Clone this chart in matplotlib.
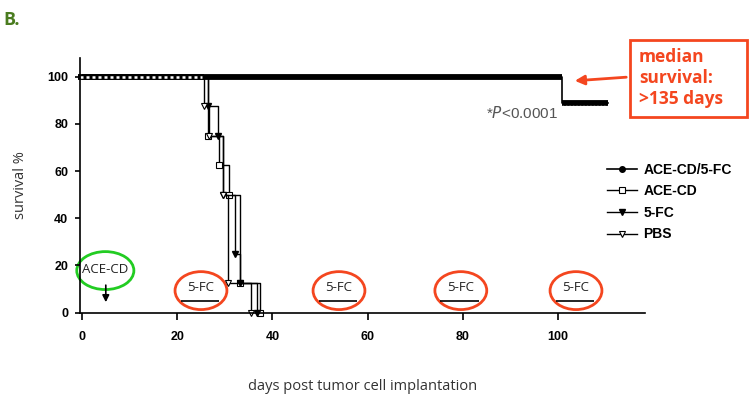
import matplotlib
matplotlib.use("Agg")
from matplotlib import pyplot as plt
from matplotlib.patches import Ellipse, Rectangle

# Kaplan-Meier steps (day, survival %)
combo_days = [0, 100.8, 110.5]
combo_surv = [100, 88.9, 88.9]
acecd_days = [0, 26.5, 28.8, 30.9, 33.2, 37.4]
acecd_surv = [100, 75, 62.5, 50, 12.5, 0]
fc_days = [0, 26.5, 28.6, 29.7, 32.1, 33.2, 36.7]
fc_surv = [100, 87.5, 75, 50, 25, 12.5, 0]
pbs_days = [0, 25.6, 26.7, 29.7, 30.7, 35.6]
pbs_surv = [100, 87.5, 75, 50, 12.5, 0]

labels = ["ACE-CD/5-FC", "ACE-CD", "5-FC", "PBS"]
fc_doses = [25, 54, 79.6, 103.8]
xticks = [0, 20, 40, 60, 80, 100]
yticks = [0, 20, 40, 60, 80, 100]

RED = "#f4461f"

fig = plt.figure(figsize=(7.5, 4.01), dpi=100)
ax = fig.add_axes([80/750, 88/401, 565/750, 255/401])

# thick censor bar of the treated group, thin vertical drops
ax.step(combo_days, combo_surv, where="post", color="black", lw=1.2,
        marker="o", ms=4, markevery=[], label=labels[0], clip_on=False)
ax.hlines(combo_surv[:-1], combo_days[:-1], combo_days[1:], color="black",
          lw=4.2, clip_on=False)

ax.step(acecd_days, acecd_surv, where="post", color="black", lw=1.0,
        marker="s", ms=4, mfc="white", mec="black", mew=0.8,
        markevery=slice(1, None), label=labels[1], clip_on=False)
ax.step(fc_days, fc_surv, where="post", color="black", lw=1.0,
        marker="v", ms=5, mfc="black", mec="black",
        markevery=slice(1, None), label=labels[2], clip_on=False)
ax.step(pbs_days, pbs_surv, where="post", color="black", lw=1.0,
        marker="v", ms=5, mfc="white", mec="black", mew=0.8,
        markevery=slice(1, None), label=labels[3], clip_on=False)

# censor ticks on the shared 100 % segment
ax.hlines(100, -0.8, pbs_days[1], color="black", lw=4.2, clip_on=False)
ax.hlines(100, -0.5, pbs_days[1] - 0.3, color="white", lw=1.8,
          linestyles=(0, (1.2, 1.2)), clip_on=False)
ax.hlines(combo_surv[1] - 1.3, combo_days[1], combo_days[2], color="white",
          lw=1.0, linestyles=(0, (1, 1.5)), clip_on=False)

ax.set_xlim(-0.42, 118.3)
ax.set_ylim(-0.2, 108)
ax.set_xticks(xticks)
ax.set_yticks(yticks)
for s in ["top", "right"]:
    ax.spines[s].set_visible(False)
for s in ["left", "bottom"]:
    ax.spines[s].set_linewidth(1.2)
ax.tick_params(axis="x", length=5, width=1.2, pad=8)
ax.tick_params(axis="y", length=3.6, width=1.2, pad=5)
for t in ax.get_xticklabels() + ax.get_yticklabels():
    t.set_fontfamily("Liberation Sans")
    t.set_fontweight("bold")
    t.set_fontsize(9)

ax.set_xlabel("days post tumor cell implantation", family="Open Sans",
              fontsize=10.5, color="#333333", labelpad=26)
ax.set_ylabel("survival %", family="Open Sans", fontsize=10.5,
              color="#333333", labelpad=14)

ax.legend(loc="upper left", bbox_to_anchor=(594/750, 1 - 150/401),
          bbox_transform=fig.transFigure, frameon=False, numpoints=1,
          handlelength=2.2, handletextpad=0.45, labelspacing=0.55,
          prop={"family": "Liberation Sans", "weight": "bold", "size": 10})

ax.text(92.5, 84.5, "*$\\it{P}$<0.0001", fontsize=11, color="#555555",
        family="Liberation Sans", ha="center", va="center")

# treatment annotations
ax.add_patch(Ellipse((4.9, 17.8), 12, 16.1, fill=False, ec="#22cc22",
                     lw=2, clip_on=False))
ax.text(4.9, 18.3, "ACE-CD", family="Open Sans", fontsize=9.5,
        ha="center", va="center", color="#222222")
ax.annotate("", xy=(5, 3.2), xytext=(5, 12.8),
            arrowprops=dict(arrowstyle="-|>", color="black", lw=1.2,
                            mutation_scale=10), annotation_clip=False)
for d in fc_doses:
    ax.add_patch(Ellipse((d, 9.3), 10.9, 16.1, fill=False, ec=RED, lw=2,
                         clip_on=False))
    ax.text(d, 10.8, "5-FC", family="Open Sans", fontsize=9.5,
            ha="center", va="center", color="#222222")
    ax.hlines(4.7, d - 4.3, d + 3.8, color="black", lw=1.2, clip_on=False)

# median survival call-out
fig.patches.append(Rectangle((630/750, 1 - 117/401), 117/750, 77/401,
                             transform=fig.transFigure, fill=False,
                             ec=RED, lw=2))
fig.text(639/750, 1 - 78/401, "median\nsurvival:\n>135 days", color=RED,
         family="Open Sans", weight="bold", fontsize=12.5, va="center",
         ha="left", linespacing=1.22)
ax.annotate("", xy=(572/750, 1 - 81/401), xytext=(629/750, 1 - 77/401),
            xycoords="figure fraction", textcoords="figure fraction",
            arrowprops=dict(arrowstyle="-|>", color=RED, lw=2,
                            mutation_scale=14))

fig.text(3/750, 1 - 20/401, "B.", color="#4a7c1f", family="Open Sans",
         weight="bold", fontsize=13, va="center", ha="left")

fig.savefig("out.png", dpi=100)
